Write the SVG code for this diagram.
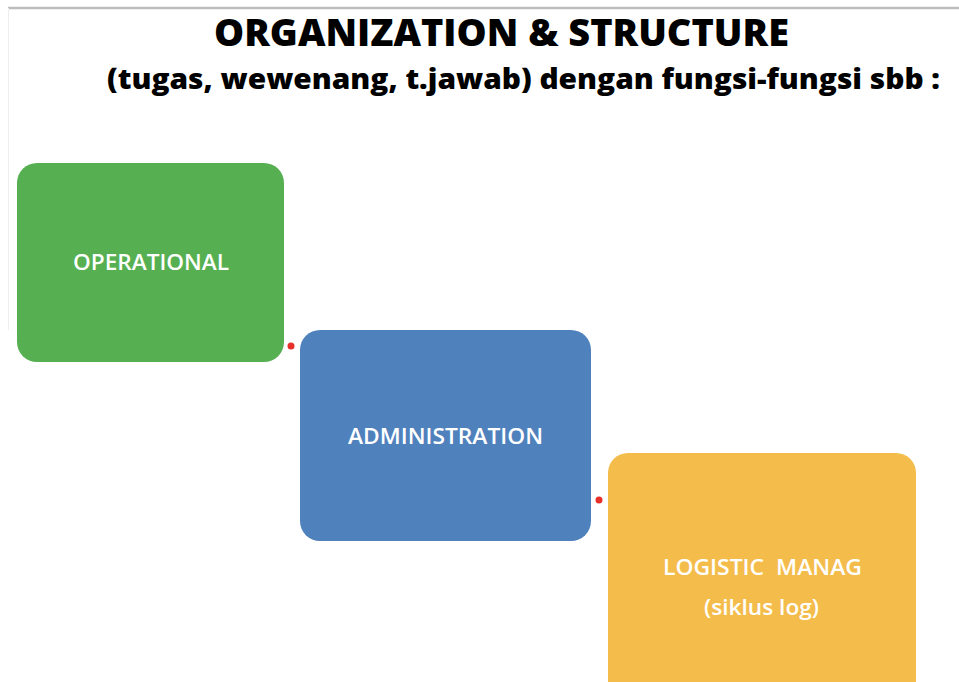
<svg xmlns="http://www.w3.org/2000/svg" width="959" height="682" viewBox="0 0 959 682">
<style>
.title{font-family:"Open Sans","Liberation Sans",sans-serif;font-weight:800;fill:#000}
.lbl{font-family:"Open Sans","Liberation Sans",sans-serif;fill:#fff;font-size:22px;font-weight:600;text-anchor:middle}
.dot{fill:#e8302a}
</style>
<rect x="0" y="0" width="959" height="682" fill="#fff"/>
<line x1="8" y1="8" x2="959" y2="8" stroke="#bdbdbd" stroke-width="2.5"/>
<line x1="8.5" y1="8" x2="8.5" y2="330" stroke="#eeeeee" stroke-width="1"/>
<text class="title" x="214" y="46" font-size="37" textLength="575" lengthAdjust="spacingAndGlyphs">ORGANIZATION &amp; STRUCTURE</text>
<text class="title" x="107" y="89" font-size="29" textLength="833" lengthAdjust="spacingAndGlyphs">(tugas, wewenang, t.jawab) dengan fungsi-fungsi sbb :</text>
<g id="connectors">
<circle class="dot" cx="291" cy="346" r="3.5"/>
<circle class="dot" cx="599" cy="500" r="3.5"/>
</g>
<g id="operational">
<rect x="17" y="163" width="267" height="199" rx="20" fill="#56b051"/>
<text class="lbl" x="151" y="270" textLength="156" lengthAdjust="spacingAndGlyphs">OPERATIONAL</text>
</g>
<g id="administration">
<rect x="300" y="330" width="291" height="211" rx="20" fill="#4f81bd"/>
<text class="lbl" x="445.5" y="444" textLength="195" lengthAdjust="spacingAndGlyphs">ADMINISTRATION</text>
</g>
<g id="logistic">
<rect x="608" y="453" width="308" height="250" rx="20" fill="#f4bc4b"/>
<text class="lbl" x="762.5" y="575" textLength="199" lengthAdjust="spacingAndGlyphs" xml:space="preserve">LOGISTIC  MANAG</text>
<text class="lbl" x="761.5" y="615" textLength="115" lengthAdjust="spacingAndGlyphs">(siklus log)</text>
</g>
</svg>
